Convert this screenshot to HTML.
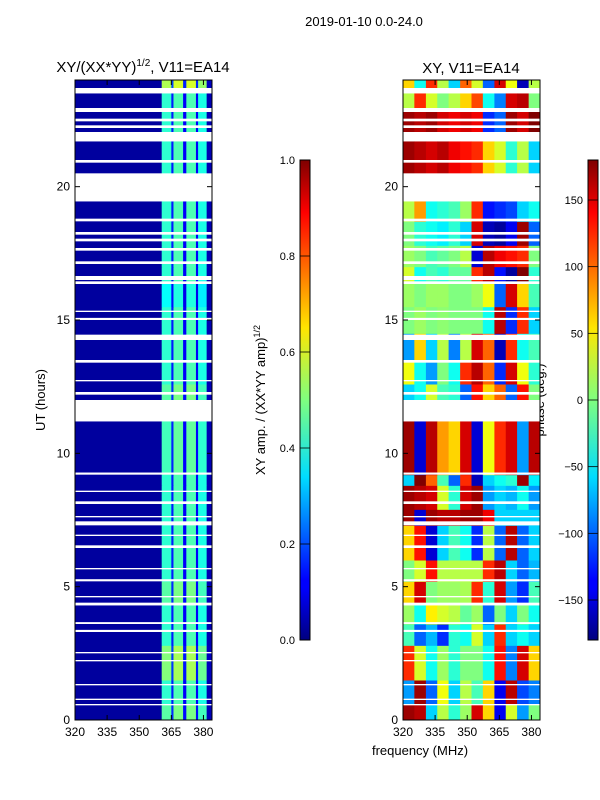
<!DOCTYPE html>
<html><head><meta charset="utf-8"><style>
body{margin:0;background:#fff;}
svg{display:block;font-family:"Liberation Sans","DejaVu Sans",sans-serif;}
</style></head><body>
<svg id="fig" width="600" height="800" viewBox="0 0 600 800">
<defs>
<linearGradient id="jet" x1="0" y1="1" x2="0" y2="0">
<stop offset="0" stop-color="#00007f"/><stop offset="0.11" stop-color="#0000ff"/><stop offset="0.125" stop-color="#0000ff"/><stop offset="0.34" stop-color="#00dcff"/><stop offset="0.5" stop-color="#7fff7f"/><stop offset="0.65" stop-color="#ffe600"/><stop offset="0.89" stop-color="#ff0000"/><stop offset="1" stop-color="#7f0000"/>
</linearGradient>
<clipPath id="clipL"><rect x="75" y="80" width="137" height="640"/></clipPath>
<clipPath id="clipR"><rect x="403" y="80" width="137" height="640"/></clipPath>
</defs>
<text x="364" y="26" font-size="13" text-anchor="middle">2019-01-10 0.0-24.0</text>
<text x="143" y="72" font-size="15" text-anchor="middle">XY/(XX*YY)<tspan font-size="10" dy="-6">1/2</tspan><tspan dy="6">, V11=EA14</tspan></text>
<text x="471" y="73" font-size="15" text-anchor="middle">XY, V11=EA14</text>
<text transform="translate(45,400) rotate(-90)" font-size="13" text-anchor="middle">UT (hours)</text>
<text transform="translate(265,400) rotate(-90)" font-size="13" text-anchor="middle">XY amp. / (XX*YY amp)<tspan font-size="9" dy="-5">1/2</tspan></text>
<text transform="translate(544,400) rotate(-90)" font-size="13" text-anchor="middle">phase (deg.)</text>
<text x="420" y="755" font-size="13" text-anchor="middle">frequency (MHz)</text>
<g id="gL" clip-path="url(#clipL)"></g>
<g id="gR" clip-path="url(#clipR)"></g>
<g id="axes"></g>
</svg>
<script>
// ---- data ----
const segStart = [0,0.6,1.5,2.8,3.6,4.4,5.2,6.0,7.3,7.9,8.8,9.2,12.0,12.6,13.5,14.5,15.5,16.4,17.0,17.8,18.7,20.5,22.0,22.9,23.55];
const segEnd   = [0.6,1.5,2.8,3.6,4.3,5.2,6.0,7.3,7.9,8.8,9.2,11.2,12.6,13.5,14.5,15.5,16.4,17.0,17.8,18.7,19.45,21.7,22.8,23.5,24];
const phaseFreqs = [320,325.3,330.7,336,341.3,346.7,352,357.3,362.7,368,373.3,378.7];
const phaseVals = [
 [170,160,-60,20,-30,10,150,60,-140,30,-80,0],
 [-80,170,-100,40,-60,20,-20,60,-140,160,-110,-90],
 [120,30,-40,10,-30,0,0,-40,130,-90,150,60],
 [-20,-100,-70,-120,-30,-40,30,-60,120,-60,-40,-60],
 [10,-40,50,30,20,-10,10,-100,0,-60,0,-40],
 [60,150,0,10,10,15,120,-30,150,-80,-120,-20],
 [0,30,130,20,20,20,20,120,160,-60,-100,-70],
 [60,130,-150,-60,-20,-40,-120,20,-100,160,-100,-60],
 [170,-150,170,160,160,170,170,140,-60,-60,-60,-60],
 [170,160,150,30,-30,150,170,-80,-60,-70,-40,-80],
 [-60,180,100,-20,-100,120,-160,-60,-40,-30,170,-50],
 [170,-150,160,80,60,150,-150,40,120,150,-80,160],
 [-60,-40,30,-20,-30,-100,130,60,100,-100,130,0],
 [40,-40,-80,0,-40,120,160,100,-120,150,40,-30],
 [-80,60,-60,20,-90,20,150,100,-160,120,-40,-20],
 [0,10,0,5,0,0,0,-40,160,-120,120,-60],
 [10,0,10,10,0,0,10,40,-100,150,60,-20],
 [30,-40,-20,-30,-10,-10,120,160,-130,-170,180,-30],
 [10,0,-20,-10,0,20,-150,160,140,130,120,0],
 [0,-30,-40,-50,-30,-60,150,-160,-170,-140,170,-100],
 [20,80,-40,-30,-20,10,120,-130,-120,-110,-60,-40],
 [170,160,150,160,140,130,120,60,30,-30,20,-60],
 [170,160,170,150,140,150,140,-120,-100,170,150,180],
 [20,120,30,0,20,60,110,-40,-90,150,160,0],
 [60,-40,120,20,-60,100,30,-100,150,40,-160,20]
];
const ampEdges = [320,360.5,365,366,370.5,372,376.5,377.5,381.5,384];
const ampVals  = [0.03,0.42,0.15,0.45,0.12,0.45,0.12,0.4,0.05];
const ampScale = [1.1,1,1.2,1,1,1.1,1,1,1,1,1,1.05,1.1,1,1,1,0.9,1,1,1,1,1,1,1,1.3];
const gapStart = [0.55,0.75,1.3,2.2,2.5,3.3,3.6,4.3,4.6,5.2,5.65,6.45,6.9,7.3,7.6,8.1,8.55,9.2,11.2,12.2,12.7,13.4,14.25,15.0,15.3,16.35,16.5,17.1,17.6,17.95,18.2,18.7,19.45,20.9,21.7,22.2,22.45,22.85,23.5];
const gapEnd   = [0.6,0.8,1.35,2.25,2.55,3.38,3.67,4.4,4.65,5.28,5.7,6.55,6.95,7.45,7.65,8.2,8.6,9.28,12.0,12.3,12.75,13.5,14.45,15.08,15.35,16.45,16.65,17.2,17.7,18.05,18.3,18.8,20.5,21.0,22.05,22.3,22.55,22.95,23.7];
const yTicks = [0,5,10,15,20];
const xTicks = [320,335,350,365,380];
const ampTicks = [0.0,0.2,0.4,0.6,0.8,1.0];
const phTicks = [-150,-100,-50,0,50,100,150];
// ---- scales ----
const NS='http://www.w3.org/2000/svg';
const yS = h => 720 - h*640/24;
const xL = f => 75 + (f-320)*137/64;
const xR = f => 403 + (f-320)*137/64;
const cbY1 = v => 640 - v*480;
const cbY2 = v => 640 - (v+180)*480/360;
function jet(v){v=Math.max(0,Math.min(1,v));
 const r=Math.max(0,Math.min(1,1.5-Math.abs(4*v-3))),g=Math.max(0,Math.min(1,1.5-Math.abs(4*v-2))),b=Math.max(0,Math.min(1,1.5-Math.abs(4*v-1)));
 return `rgb(${Math.round(r*255)},${Math.round(g*255)},${Math.round(b*255)})`;}
function mk(tag,attrs,parent){const e=document.createElementNS(NS,tag);for(const k in attrs)e.setAttribute(k,attrs[k]);parent.appendChild(e);return e;}
const gL=document.getElementById('gL'),gR=document.getElementById('gR'),ax=document.getElementById('axes');
for(let s=0;s<segStart.length;s++){
 const y0=yS(segEnd[s]),y1=yS(segStart[s]);
 for(let i=0;i<ampVals.length;i++){
  const r=mk('rect',{x:xL(ampEdges[i]),y:y0,width:xL(ampEdges[i+1])-xL(ampEdges[i])+0.5,height:y1-y0+0.5,fill:jet(ampVals[i]*(i===0?1:ampScale[s]))},gL);
  
  
 }
 const row=phaseVals[s];
 for(let i=0;i<row.length;i++){
  const f0=phaseFreqs[i],f1=i+1<phaseFreqs.length?phaseFreqs[i+1]:384;
  const r=mk('rect',{x:xR(f0),y:y0,width:xR(f1)-xR(f0)+0.5,height:y1-y0+0.5,fill:jet((row[i]+180)/360)},gR);
  
  
 }
}
for(let i=0;i<gapStart.length;i++){
 for(const g of [gL,gR]){
  const r=mk('rect',{x:g===gL?75:403,y:yS(gapEnd[i]),width:137,height:yS(gapStart[i])-yS(gapEnd[i]),fill:'#fff'},g);
  
  
 }
}
// axes frames & ticks
for(const [x0,xs,nm] of [[75,xL,'left'],[403,xR,'right']]){
 const fr=mk('rect',{x:x0,y:80,width:137,height:640,fill:'none',stroke:'#000','stroke-width':1},ax);
 
 
 yTicks.forEach(t=>{const y=yS(t);
  mk('line',{x1:x0,x2:x0+5,y1:y,y2:y,stroke:'#000'},ax);
  mk('line',{x1:x0+137,x2:x0+132,y1:y,y2:y,stroke:'#000'},ax);
  const tx=mk('text',{x:x0-5,y:y+4,'font-size':12,'text-anchor':'end'},ax);tx.textContent=t;
  
  
 });
 xTicks.forEach(t=>{const x=xs(t);
  mk('line',{x1:x,x2:x,y1:720,y2:715,stroke:'#000'},ax);
  mk('line',{x1:x,x2:x,y1:80,y2:85,stroke:'#000'},ax);
  const tx=mk('text',{x:x,y:736,'font-size':12,'text-anchor':'middle'},ax);tx.textContent=t;
  
  
 });
}
// colorbars
for(const [x0,ticks,sc,nm] of [[300,ampTicks,cbY1,'amp'],[588,phTicks,cbY2,'phase']]){
 const cb=mk('rect',{x:x0,y:160,width:10,height:480,fill:'url(#jet)',stroke:'#000','stroke-width':1},ax);
 
 
 ticks.forEach(t=>{const y=sc(t);
  mk('line',{x1:x0,x2:x0+10,y1:y,y2:y,stroke:'#000','stroke-width':0.8},ax);
  const tx=mk('text',{x:x0-5,y:y+4,'font-size':11,'text-anchor':'end'},ax);
  tx.textContent=nm==='amp'?t.toFixed(1):(t<0?'\u2212'+(-t):t);
  
  
 });
}
</script>
</body></html>
